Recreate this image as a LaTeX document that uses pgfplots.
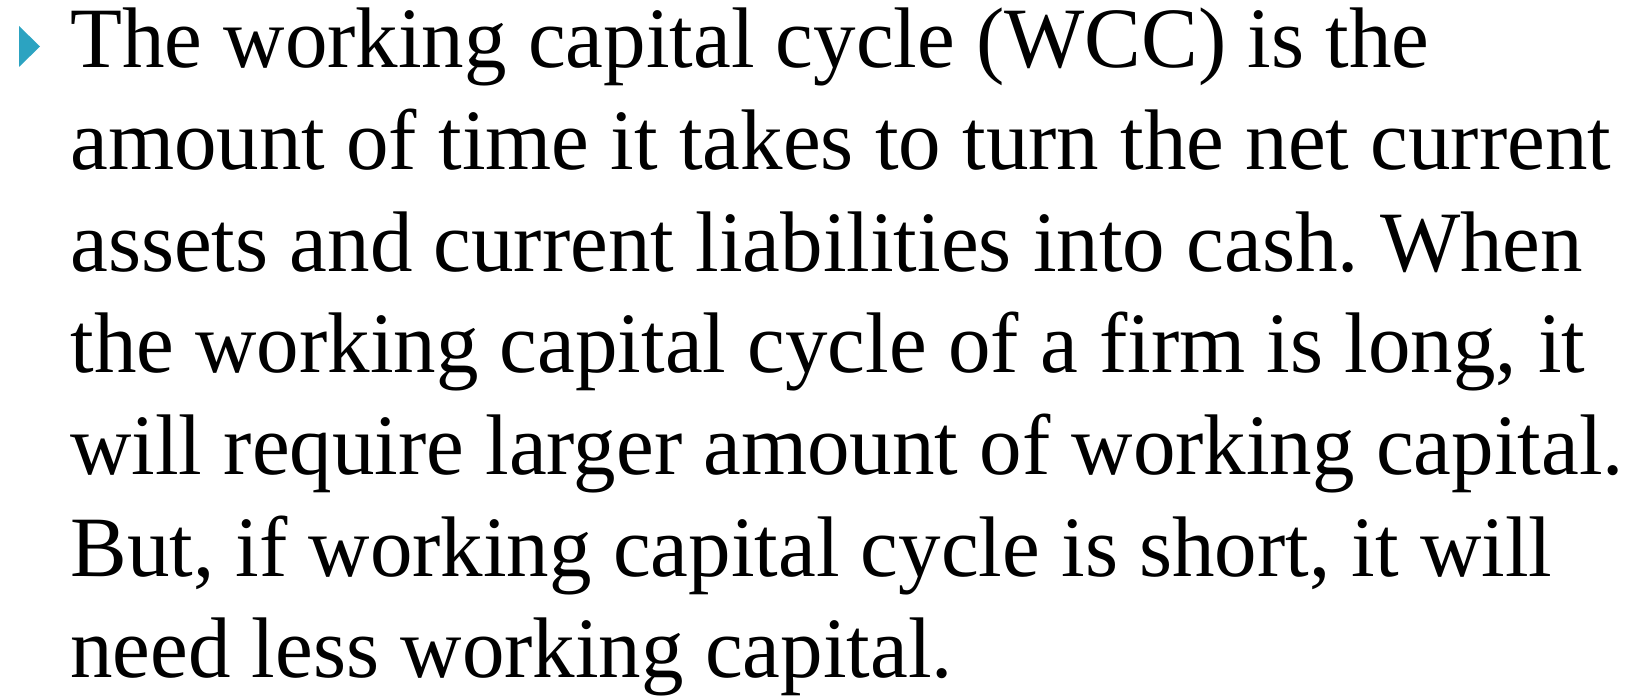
\documentclass[border=0pt]{standalone}
\usepackage{fontspec}
\setmainfont{Liberation Serif}[FakeStretch=0.988]
\usepackage{pgfplots}
\pgfplotsset{compat=1.18}
\definecolor{bullet}{RGB}{44,163,193}
\frenchspacing
\begin{document}
\begin{tikzpicture}
\begin{axis}[
  width=818pt, height=349.5pt, scale only axis,
  xmin=0, xmax=1636, ymin=0, ymax=699,
  hide axis, clip=false,
]
\addplot[draw=none, forget plot] coordinates {(0,0) (1636,699)};
\fill[bullet] (axis cs:19,673) -- (axis cs:40,652.5) -- (axis cs:19,632) -- cycle;
\begin{scope}[every node/.style={anchor=base west, inner sep=0pt, font=\fontsize{43pt}{50pt}\selectfont}]
\node at (axis cs:70,631)   {The working capital cycle (WCC) is the};
\node at (axis cs:70,529.3) {amount of time it takes to turn the net current};
\node at (axis cs:70,427.7) {assets and current liabilities into cash. When};
\node at (axis cs:70,326)   {the working capital cycle of a firm is long, it};
\node at (axis cs:70,224.3) {will require larger amount of working capital.};
\node at (axis cs:70,122.7) {But, if working capital cycle is short, it will};
\node at (axis cs:70,21)    {need less working capital.};
\end{scope}
\end{axis}
\pgfresetboundingbox
\useasboundingbox (0,0) rectangle (818pt,349.5pt);
\end{tikzpicture}
\end{document}
